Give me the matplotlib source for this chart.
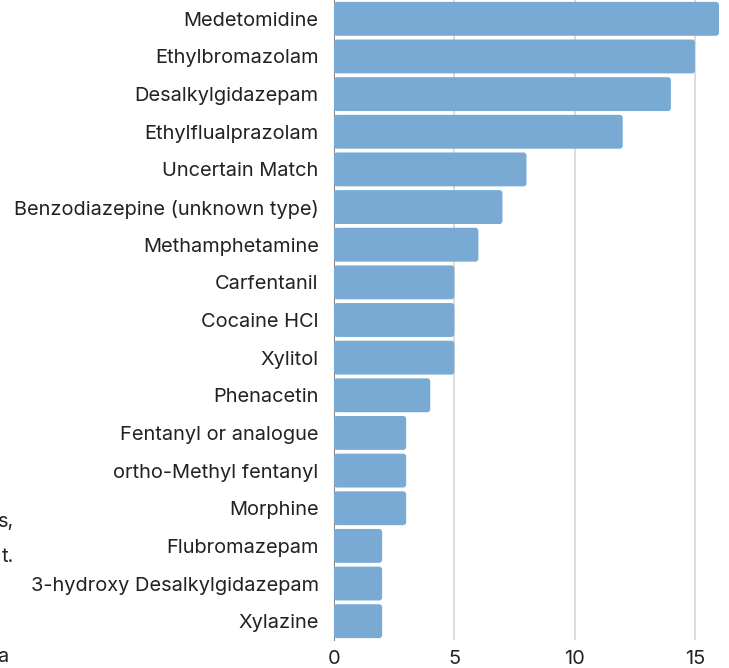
import matplotlib
matplotlib.use("Agg")
import matplotlib.pyplot as plt
from matplotlib.patches import FancyBboxPatch

categories = ["Medetomidine", "Ethylbromazolam", "Desalkylgidazepam", "Ethylflualprazolam",
              "Uncertain Match", "Benzodiazepine (unknown type)", "Methamphetamine",
              "Carfentanil", "Cocaine HCl", "Xylitol", "Phenacetin", "Fentanyl or analogue",
              "ortho-Methyl fentanyl", "Morphine", "Flubromazepam",
              "3-hydroxy Desalkylgidazepam", "Xylazine"]
values = [16, 15, 14, 12, 8, 7, 6, 5, 5, 5, 4, 3, 3, 3, 2, 2, 2]
xticks = [0, 5, 10, 15]

plt.rcParams['font.family'] = ['Inter', 'DejaVu Sans']

W, H = 729, 668
fig = plt.figure(figsize=(W/100, H/100), dpi=100)
ax = fig.add_axes([334/W, 1 - 640/H, (719-334)/W, 640/H])

y = list(range(len(categories)))
bars = ax.barh(y, values, height=0.9, color="#78aad3", zorder=3)
ax.set_ylim(len(categories) - 0.5, -0.5)
ax.set_xlim(0, 16)

# rounded corners: replace rectangles with rounded boxes
px_x = (719 - 334) / 16.0      # pixels per x unit
px_y = 640 / len(categories)   # pixels per y unit
for b in bars:
    x0, y0 = b.get_x(), b.get_y()
    w, h = b.get_width(), b.get_height()
    r = 3.0 / px_x
    p = FancyBboxPatch((x0, y0), w, h, boxstyle=f"round,pad=0,rounding_size={r}",
                       mutation_aspect=px_x / px_y, facecolor="#78aad3",
                       edgecolor="none", zorder=3)
    b.set_visible(False)
    ax.add_patch(p)

ax.set_yticks(y)
ax.set_yticklabels(categories, fontsize=14.4, color="#222222")
ax.set_xticks(xticks)
ax.set_xticklabels([str(t) for t in xticks], fontsize=14.4, color="#222222")
ax.tick_params(axis='y', length=0, pad=11)
ax.tick_params(axis='x', length=0, pad=7)
for s in ["top", "right", "bottom"]:
    ax.spines[s].set_visible(False)
ax.spines["left"].set_color("#888888")
ax.spines["left"].set_linewidth(0.8)
ax.spines["left"].set_zorder(1)
ax.grid(axis='x', color="#d6d6d6", linewidth=1.2, zorder=0)
ax.set_axisbelow(True)

fig.text(14/W, 1 - 522/H, "s,", ha='right', va='center', fontsize=14.4, color="#222222")
fig.text(14/W, 1 - 557/H, "t.", ha='right', va='center', fontsize=14.4, color="#222222")
fig.text(8/W, 1 - 657/H, "a", ha='right', va='center', fontsize=14.4, color="#222222")

fig.savefig("out.png", dpi=100)
